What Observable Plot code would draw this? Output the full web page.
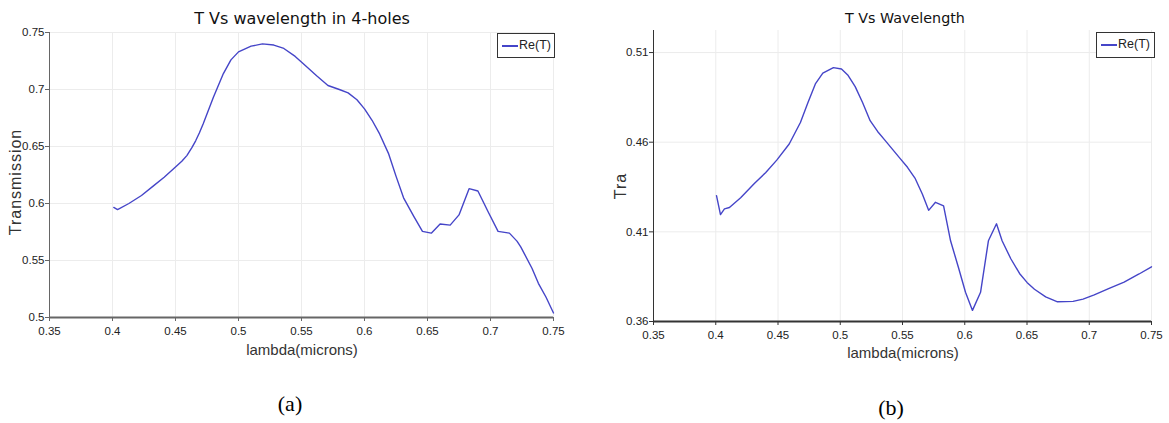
<!DOCTYPE html>
<html>
<head>
<meta charset="utf-8">
<script src="https://cdn.jsdelivr.net/npm/d3@7"></script>
<script src="https://cdn.jsdelivr.net/npm/@observablehq/plot@0.6"></script>
<style>
  html, body { margin: 0; padding: 0; background: white; }
  #wrap { position: relative; width: 1169px; height: 423px; overflow: hidden; background: white; }
  .abs { position: absolute; white-space: nowrap; }
  .title { font-family: "DejaVu Sans", Verdana, sans-serif; font-size: 14.3px; color: #111; transform: translate(-50%, -50%); }
  .titleA { font-size: 16px; }
  .xlab { font-family: "Liberation Sans", Arial, sans-serif; font-size: 15px; color: #333; transform: translate(-50%, -50%); }
  .ylab { font-family: "Liberation Sans", Arial, sans-serif; font-size: 16px; letter-spacing: 1px; color: #333; transform: translate(-50%, -50%) rotate(-90deg); }
  .cap { font-family: "Liberation Serif", "Times New Roman", serif; font-size: 22px; color: #000; transform: translate(-50%, -50%); }
  .legend { border: 1px solid #333; background: white; box-sizing: border-box; font-family: "Liberation Sans", Arial, sans-serif; font-size: 12.5px; color: #222; }
  .legend .sw { position: absolute; left: 4px; top: 11px; width: 16px; height: 2px; background: #4545c8; }
  .legend .tx { position: absolute; left: 21px; top: 4px; }
</style>
</head>
<body>
<div id="wrap"></div>
<script>
// ---------- data: panel (a) ----------
const lambdaA = [0.401,0.404,0.413,0.423,0.432,0.441,0.450,0.455,0.459,0.463,0.466,0.469,0.472,0.480,0.488,0.494,0.500,0.510,0.519,0.528,0.536,0.545,0.553,0.562,0.571,0.580,0.587,0.594,0.600,0.606,0.612,0.619,0.625,0.631,0.639,0.646,0.653,0.660,0.668,0.675,0.683,0.690,0.698,0.706,0.715,0.721,0.724,0.733,0.738,0.744,0.750];
const transA  = [0.5965,0.5947,0.600,0.607,0.615,0.623,0.632,0.637,0.642,0.649,0.655,0.662,0.670,0.693,0.714,0.726,0.733,0.738,0.740,0.739,0.736,0.729,0.721,0.712,0.7035,0.700,0.697,0.691,0.683,0.673,0.661,0.644,0.624,0.605,0.589,0.5755,0.574,0.582,0.581,0.590,0.613,0.611,0.593,0.5755,0.574,0.567,0.562,0.543,0.530,0.518,0.504];

// ---------- data: panel (b) ----------
const lambdaB = [0.4006,0.4038,0.407,0.411,0.420,0.431,0.440,0.449,0.459,0.468,0.474,0.480,0.486,0.4945,0.501,0.506,0.512,0.518,0.524,0.530,0.536,0.542,0.548,0.554,0.560,0.566,0.571,0.5765,0.583,0.5886,0.595,0.6006,0.6062,0.6127,0.619,0.6255,0.630,0.637,0.644,0.650,0.656,0.665,0.6745,0.687,0.695,0.704,0.716,0.728,0.740,0.750];
const transB  = [0.4302,0.4196,0.4228,0.4236,0.429,0.437,0.443,0.450,0.459,0.471,0.482,0.4925,0.4985,0.5016,0.5008,0.4975,0.491,0.482,0.472,0.466,0.461,0.456,0.451,0.446,0.440,0.431,0.422,0.4265,0.4245,0.405,0.390,0.3763,0.3662,0.3763,0.405,0.4145,0.405,0.395,0.3868,0.3818,0.378,0.3737,0.3710,0.3712,0.3725,0.3748,0.3785,0.382,0.3865,0.3905];

// ---------- ticks & labels ----------
const xTicks  = [0.35,0.4,0.45,0.5,0.55,0.6,0.65,0.7,0.75];
const xTickLabels = ["0.35","0.4","0.45","0.5","0.55","0.6","0.65","0.7","0.75"];
const yTicksA = [0.5,0.55,0.6,0.65,0.7,0.75];
const yTickLabelsA = ["0.5","0.55","0.6","0.65","0.7","0.75"];
const yTicksB = [0.36,0.41,0.46,0.51];
const yTickLabelsB = ["0.36","0.41","0.46","0.51"];
const titleA = "T Vs wavelength in 4-holes";
const titleB = "T Vs Wavelength";
const xLabel = "lambda(microns)";
const yLabelA = "Transmission";
const yLabelB = "Tra";
const seriesName = "Re(T)";

const dataA = lambdaA.map((l, i) => ({lambda: l, t: transA[i]}));
const dataB = lambdaB.map((l, i) => ({lambda: l, t: transB[i]}));

function fmt(ticks, labels) { return d => labels[ticks.indexOf(d)] ?? String(d); }

function panel({data, yDomain, yTicks, yLabels, width, height, ml, mr, mt, mb, axisColor}) {
  return Plot.plot({
    width, height,
    marginLeft: ml, marginRight: mr, marginTop: mt, marginBottom: mb,
    x: {domain: [0.35, 0.75]},
    y: {domain: yDomain},
    style: {fontFamily: "Liberation Sans, Arial, sans-serif", fontSize: "11.5px", color: "#222", background: "transparent", overflow: "visible"},
    marks: [
      Plot.gridX(xTicks, {stroke: "#ececec", strokeOpacity: 1}),
      Plot.gridY(yTicks, {stroke: "#ececec", strokeOpacity: 1}),
      Plot.axisX(xTicks, {tickSize: 4, tickPadding: 5, tickFormat: fmt(xTicks, xTickLabels), label: null, stroke: axisColor}),
      Plot.axisY(yTicks, {tickSize: 4, tickPadding: 1, tickFormat: fmt(yTicks, yLabels), label: null, stroke: axisColor}),
      Plot.ruleX([0.35], {stroke: axisColor, strokeWidth: 1}),
      Plot.ruleY([yDomain[0]], {stroke: axisColor, strokeWidth: 2}),
      Plot.line(data, {x: "lambda", y: "t", stroke: "#4545c8", strokeWidth: 1.4})
    ]
  });
}

const wrap = document.getElementById("wrap");

const svgA = panel({data: dataA, yDomain: [0.5, 0.75], yTicks: yTicksA, yLabels: yTickLabelsA,
  width: 585, height: 340, ml: 49, mr: 32, mt: 32, mb: 23, axisColor: "#666"});
svgA.style.position = "absolute"; svgA.style.left = "0px"; svgA.style.top = "0px";
wrap.appendChild(svgA);

const svgB = panel({data: dataB, yDomain: [0.36, 0.5223], yTicks: yTicksB, yLabels: yTickLabelsB,
  width: 584, height: 340, ml: 68, mr: 18, mt: 30, mb: 19, axisColor: "#333"});
svgB.style.position = "absolute"; svgB.style.left = "585px"; svgB.style.top = "0px";
wrap.appendChild(svgB);

function addText(cls, text, x, y) {
  const d = document.createElement("div");
  d.className = "abs " + cls;
  d.style.left = x + "px"; d.style.top = y + "px";
  d.textContent = text;
  wrap.appendChild(d);
}
function addLegend(x, y, w, h) {
  const d = document.createElement("div");
  d.className = "abs legend";
  d.style.left = x + "px"; d.style.top = y + "px";
  d.style.width = w + "px"; d.style.height = h + "px";
  const sw = document.createElement("div"); sw.className = "sw";
  const tx = document.createElement("div"); tx.className = "tx"; tx.textContent = seriesName;
  d.appendChild(sw); d.appendChild(tx);
  wrap.appendChild(d);
}

addText("title titleA", titleA, 302, 18);
addText("title", titleB, 905, 18);
addText("xlab", xLabel, 302, 349);
addText("xlab", xLabel, 903, 352);
addText("ylab", yLabelA, 16, 182);
addText("ylab", yLabelB, 621, 186);
addText("cap", "(a)", 290, 404);
addText("cap", "(b)", 891, 408);
addLegend(497, 33, 58, 25);
addLegend(1096, 32, 59, 26);
</script>
</body>
</html>
